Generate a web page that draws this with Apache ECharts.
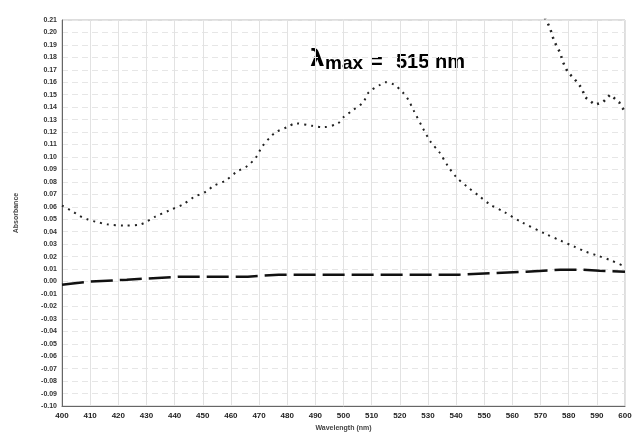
<!DOCTYPE html>
<html>
<head>
<meta charset="utf-8">
<script src="https://cdn.jsdelivr.net/npm/echarts@6/dist/echarts.min.js"></script>
<style>
html,body{margin:0;padding:0;background:#fff;}
#chart{width:638px;height:437px;}
</style>
</head>
<body>
<div id="chart"></div>
<script>
// Main absorption spectrum (dotted)
var mainWavelength = [400,404,406,409,412,416,422,428,433,438,443,447,451,454,458,462,466,469,471,474,476,480,483,489,493,498,500,503,507,509,513,515,518,521,523,525,528,531,534,537,540,544,548,552,557,563,572,577,582,586,590,595,599];
var mainAbsorbance = [0.061,0.056,0.053,0.050,0.048,0.046,0.045,0.046,0.052,0.057,0.062,0.068,0.072,0.077,0.081,0.088,0.093,0.100,0.108,0.116,0.120,0.124,0.127,0.125,0.124,0.127,0.132,0.137,0.144,0.152,0.158,0.160,0.158,0.152,0.146,0.137,0.124,0.112,0.104,0.093,0.084,0.076,0.069,0.062,0.056,0.048,0.038,0.033,0.028,0.024,0.021,0.017,0.013];

// Second trace entering from top right
var upperWavelength = [571.5,573.3,574.4,575.5,576.9,578,579.7,581.5,583,584.7,585.8,589.3,592.2,594.7,597.9,600];
var upperAbsorbance = [0.212,0.204,0.196,0.190,0.184,0.176,0.168,0.164,0.160,0.155,0.148,0.142,0.144,0.150,0.144,0.136];

// Baseline (dashed)
var baseWavelength = [400,403,410,423,442,466,477,496,532,541,565,577,585,591,600];
var baseAbsorbance = [-0.0025,-0.0017,0.0,0.0015,0.0039,0.0039,0.0055,0.0055,0.0055,0.0055,0.0079,0.0095,0.0095,0.0087,0.0079];

var xMin = 400, xMax = 600, xStep = 10;
var yMin = -0.10, yMax = 0.21, yStep = 0.01;
var xName = 'Wavelength (nm)';
var yName = 'Absorbance';

function pairs(xs, ys){ return xs.map(function(x,i){ return [x, ys[i]]; }); }

var labelFont = 'Liberation Sans';
function ann(x, y, text, size, font){
  return {type:'text', x:x, y:y,
    style:{text:text, fontFamily:font || labelFont, fontSize:size, fontWeight:'bold', fill:'#000',
           align:'left', verticalAlign:'bottom'}};
}

var chart = echarts.init(document.getElementById('chart'), null, {renderer:'canvas'});
chart.setOption({
  backgroundColor:'#ffffff',
  animation:false,
  grid:{left:62, right:13, top:20, bottom:29, show:true, borderColor:'#bbb', borderWidth:1},
  xAxis:{
    type:'value', min:xMin, max:xMax, interval:xStep,
    name:xName, nameLocation:'middle', nameGap:15,
    nameTextStyle:{fontFamily:labelFont, fontSize:7, color:'#444', fontWeight:'bold'},
    axisLine:{onZero:false, lineStyle:{color:'#666', width:1}},
    axisTick:{show:false},
    axisLabel:{fontFamily:labelFont, fontSize:8, color:'#222', fontWeight:'bold', margin:6},
    splitLine:{show:true, lineStyle:{color:'#e2e2e2', width:1}}
  },
  yAxis:{
    type:'value', min:yMin, max:yMax, interval:yStep,
    name:yName, nameLocation:'middle', nameGap:42, nameRotate:90,
    nameTextStyle:{fontFamily:labelFont, fontSize:7, color:'#444', fontWeight:'bold'},
    axisLine:{show:true, lineStyle:{color:'#666', width:1}},
    axisTick:{show:false},
    axisLabel:{fontFamily:labelFont, fontSize:7, color:'#333', fontWeight:'bold', margin:5, interval:0,
      formatter:function(v){ return v.toFixed(2); }},
    splitLine:{show:true, lineStyle:{color:'#e6e6e6', width:1, type:[6,4]}}
  },
  series:[
    {type:'line', data:pairs(mainWavelength, mainAbsorbance), showSymbol:false, smooth:0.3,
     lineStyle:{color:'#222', width:2, type:[2,5]}, clip:true},
    {type:'line', data:pairs(upperWavelength, upperAbsorbance), showSymbol:false,
     lineStyle:{color:'#222', width:2.5, type:[2,5]}, clip:true},
    {type:'line', data:pairs(baseWavelength, baseAbsorbance), showSymbol:false,
     lineStyle:{color:'#111', width:2.5, type:[22,7]}, clip:true}
  ],
  graphic:[
    ann(310, 72, 'λ', 23, 'DejaVu Sans'),
    ann(325, 73, 'max', 19),
    ann(371, 72, '=', 20),
    ann(396, 72, '515 nm', 20)
  ]
});
</script>
</body>
</html>
